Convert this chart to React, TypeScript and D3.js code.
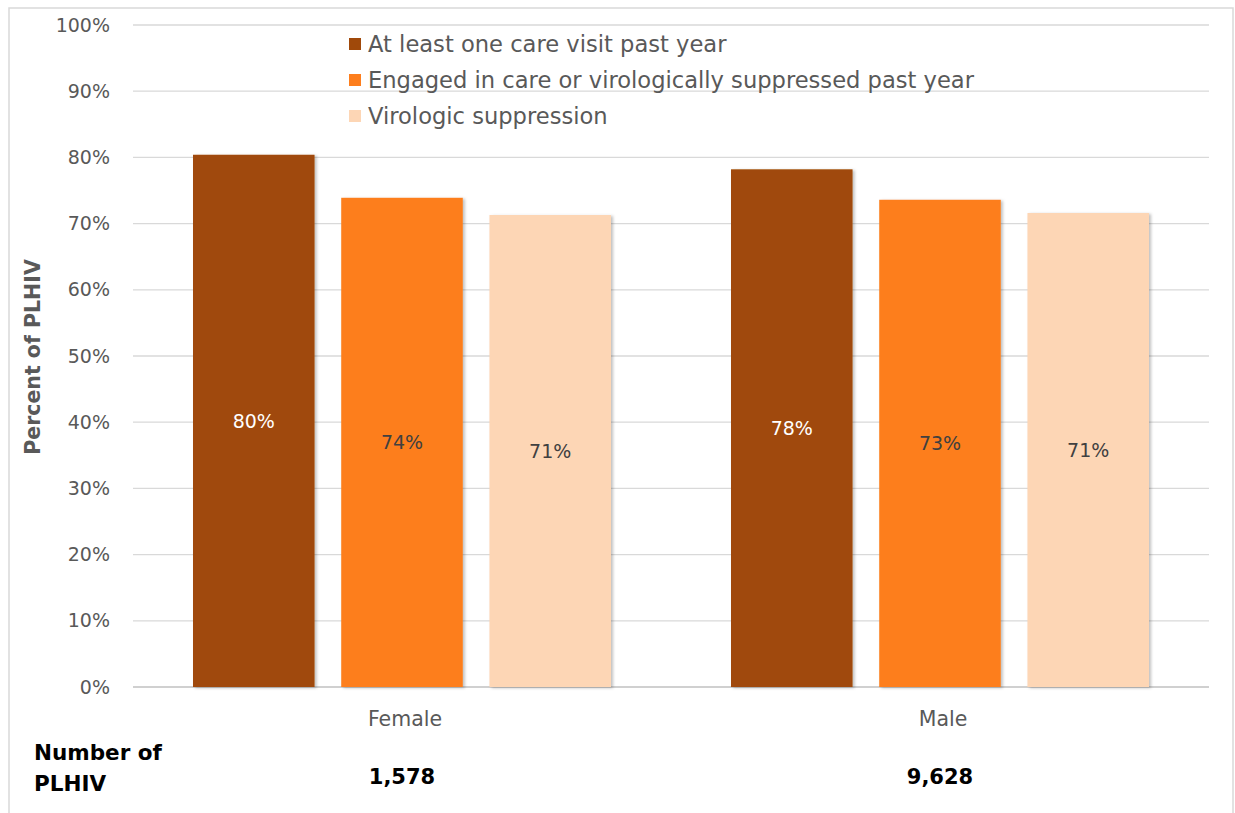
import React from "react";
import * as d3 from "d3";

const categories = ["Female", "Male"];
const seriesNames = [
  "At least one care visit past year",
  "Engaged in care or virologically suppressed past year",
  "Virologic suppression",
];
const careVisit = [80.4, 78.2];
const engaged = [73.9, 73.6];
const suppression = [71.3, 71.6];
const labelCare = ["80%", "78%"];
const labelEngaged = ["74%", "73%"];
const labelSupp = ["71%", "71%"];
const numberPLHIV = ["1,578", "9,628"];
const yTicks = [0, 10, 20, 30, 40, 50, 60, 70, 80, 90, 100];

const colors = ["#A0490A", "#FD7E1D", "#FDD6B5"];
const labelColors = ["#FFFFFF", "#404040", "#404040"];
const FONT = "Tahoma, 'DejaVu Sans', sans-serif";

export default function App() {
  const W = 1235, H = 813;
  const left = 133, right = 1209, top = 25, bottom = 687;
  const x0 = d3.scaleBand<string>().domain(categories).range([left, right]).paddingInner(0).paddingOuter(0);
  const x1 = d3.scaleBand<string>().domain(["0", "1", "2"]).range([60, x0.bandwidth() - 60]).paddingInner(0.18).paddingOuter(0);
  const y = d3.scaleLinear().domain([0, 100]).range([bottom, top]);
  const series = [careVisit, engaged, suppression];
  const labels = [labelCare, labelEngaged, labelSupp];

  return (
    <svg width={W} height={H} style={{ position: "absolute", left: 0, top: 0, fontFamily: FONT }}>
      <defs>
        <filter id="sh" x="-10%" y="-10%" width="130%" height="130%">
          <feDropShadow dx="2" dy="1" stdDeviation="1.5" floodColor="#000" floodOpacity="0.25" />
        </filter>
      </defs>
      <rect x={0} y={0} width={W} height={H} fill="#fff" />
      <rect x={9} y={8} width={1224} height={830} fill="none" stroke="#D9D9D9" strokeWidth={1.5} />
      {yTicks.map((t) => (
        <g key={t}>
          <line x1={left} x2={right} y1={y(t)} y2={y(t)} stroke={t === 0 ? "#D0D0D0" : "#D9D9D9"} strokeWidth={t === 0 ? 2 : 1.3} />
          <text x={110} y={y(t)} dy="0.35em" textAnchor="end" fontSize={19} fill="#595959">{t}%</text>
        </g>
      ))}
      <text transform={`translate(40,357) rotate(-90)`} textAnchor="middle" fontSize={20.5} fontWeight="bold" fill="#595959">Percent of PLHIV</text>
      {categories.map((c, ci) => (
        <g key={c}>
          {series.map((s, si) => {
            const bx = (x0(c) as number) + (x1(String(si)) as number);
            const bw = x1.bandwidth();
            return (
              <g key={si}>
                <rect x={bx} y={y(s[ci])} width={bw} height={bottom - y(s[ci])} fill={colors[si]} filter="url(#sh)" />
                <text x={bx + bw / 2} y={(y(s[ci]) + bottom) / 2} dy="0.35em" textAnchor="middle" fontSize={19} fill={labelColors[si]}>{labels[si][ci]}</text>
              </g>
            );
          })}
          <text x={(x0(c) as number) + x0.bandwidth() / 2 + 3} y={719} dy="0.35em" textAnchor="middle" fontSize={20.5} fill="#595959">{c}</text>
          <text x={(x0(c) as number) + x0.bandwidth() / 2} y={777} dy="0.35em" textAnchor="middle" fontSize={21} fontWeight="bold" fill="#000">{numberPLHIV[ci]}</text>
        </g>
      ))}
      <text x={34} y={752} dy="0.35em" fontSize={21.5} fontWeight="bold" fill="#000">Number of</text>
      <text x={34} y={783} dy="0.35em" fontSize={21.5} fontWeight="bold" fill="#000">PLHIV</text>
      {seriesNames.map((n, i) => (
        <g key={n}>
          <rect x={349} y={38 + i * 36} width={12} height={12} fill={colors[i]} />
          <text x={368} y={44 + i * 36} dy="0.35em" fontSize={22.6} fill="#595959">{n}</text>
        </g>
      ))}
    </svg>
  );
}
